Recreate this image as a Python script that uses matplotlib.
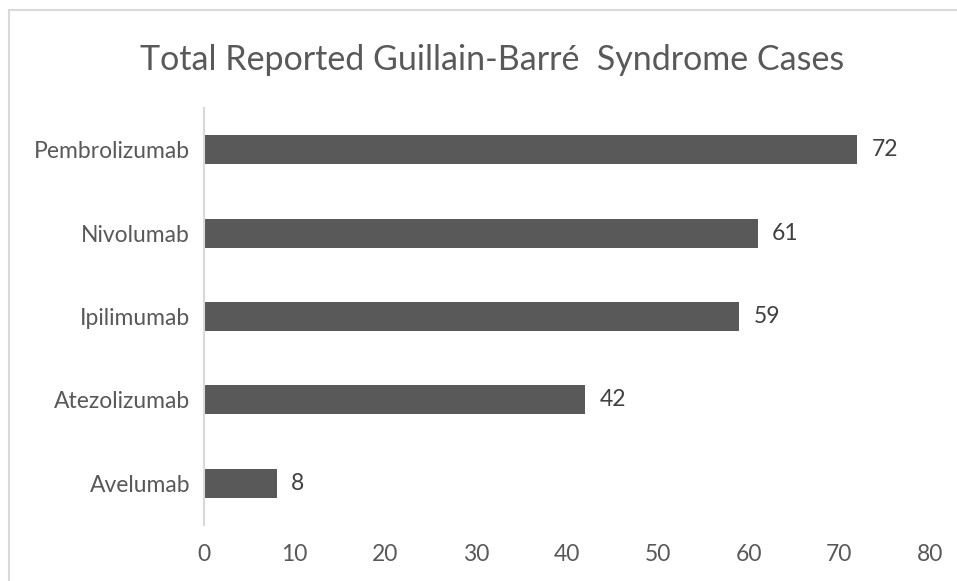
import matplotlib.pyplot as plt
from matplotlib.patches import Rectangle

drugs = ["Avelumab", "Atezolizumab", "Ipilimumab", "Nivolumab", "Pembrolizumab"]
cases = [8, 42, 59, 61, 72]
xticks = [0, 10, 20, 30, 40, 50, 60, 70, 80]

plt.rcParams['font.family'] = ['Lato', 'DejaVu Sans']
txt = '#595959'

fig = plt.figure(figsize=(9.57, 5.81), dpi=100)
ax = fig.add_axes([0.2132, 0.0964, 0.7586, 0.7177])

# light frame around the chart area
fig.patches.append(Rectangle((9 / 957, -0.1), 1.2, 1 - 10 / 581 + 0.1,
                             transform=fig.transFigure, fill=False,
                             edgecolor='#d9d9d9', linewidth=1.5))

ax.barh(range(len(drugs)), cases, height=0.35, color='#595959')
for i, v in enumerate(cases):
    ax.text(v + 1.6, i, str(v), va='center', ha='left', fontsize=16.5, color='#404040')

ax.set_xlim(0, 80)
ax.set_ylim(-0.5, len(drugs) - 0.5)
ax.set_xticks(xticks)
ax.set_yticks(range(len(drugs)))
ax.set_yticklabels(drugs)
ax.tick_params(axis='both', length=0, labelsize=16.5, colors=txt)
ax.tick_params(axis='x', pad=14)
ax.tick_params(axis='y', pad=10)
for s in ['top', 'right', 'bottom']:
    ax.spines[s].set_visible(False)
ax.spines['left'].set_color('#d9d9d9')
ax.spines['left'].set_linewidth(1.5)

fig.text(0.5146, 0.897, "Total Reported Guillain-Barré  Syndrome Cases",
         ha='center', va='center', fontsize=24.5, color=txt)

fig.savefig('out.png', dpi=100)
